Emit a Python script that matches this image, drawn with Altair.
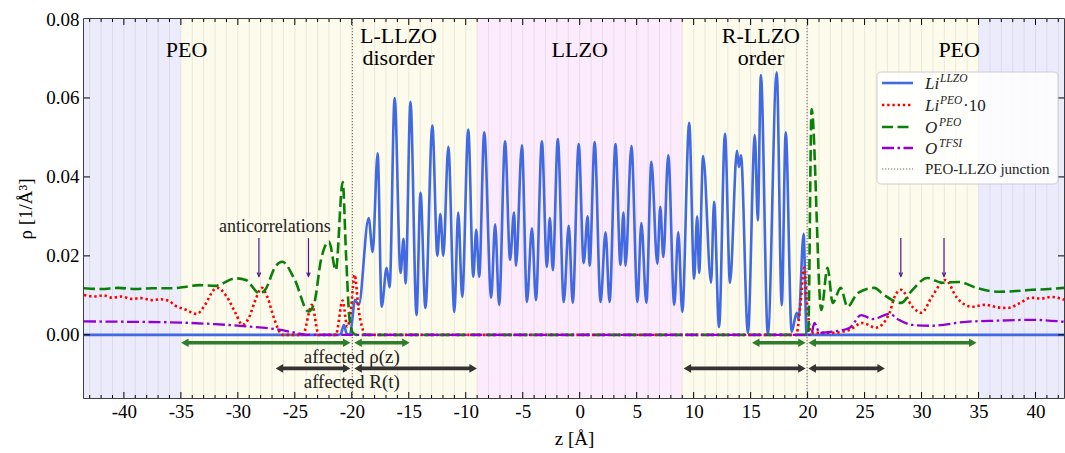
import altair as alt
import pandas as pd

# ---------------- values ----------------
REGION_Z0 = [-43.5, -35.0, -9.0, 9.0, 35.0]
REGION_Z1 = [-35.0, -9.0, 9.0, 35.0, 42.5]
REGION_COLOR = ["#ebebfb", "#fdfbeb", "#fcebfc", "#fdfbeb", "#ebebfb"]

JUNCTION_Z = [-19.95, 19.95]

LI_LLZO_Z = [-43.5, -21.2, -20.95, -20.7, -20.45, -20.15, -19.95, -19.74, -19.39, -18.52, -18.17,
             -17.73, -17.38, -16.94, -16.68, -16.24, -15.72, -15.46, -15.28, -14.85, -14.32,
             -13.97, -13.54, -12.93, -12.49, -12.23, -11.97, -11.53, -11.0, -10.66, -10.31,
             -9.78, -9.34, -9.08, -8.82, -8.38, -7.77, -7.42, -7.07, -6.55, -6.11, -5.76,
             -5.59, -5.07, -4.63, -4.19, -3.84, -3.32, -2.88, -2.62, -2.36, -1.92, -1.40,
             -0.96, -0.61, -0.09, 0.35, 0.70, 0.87, 1.31, 1.83, 2.27, 2.62, 3.14, 3.58, 3.84,
             4.02, 4.54, 5.07, 5.41, 5.85, 6.29, 6.81, 7.07, 7.34, 7.77, 8.30, 8.65, 9.00,
             9.61, 10.04, 10.31, 10.48, 10.83, 11.53, 11.79, 12.23, 12.75, 13.19, 13.80,
             13.97, 14.15, 14.76, 15.37, 15.63, 15.90, 16.51, 17.29, 17.73, 18.08, 18.60,
             19.04, 19.21, 19.65, 19.91, 42.5]
LI_LLZO_RHO = [0.0, 0.0, 0.0003, 0.0025, 0.0003, 0.0, 0.004, 0.0089, 0.0076, 0.0296, 0.0210,
               0.0460, 0.0071, 0.0170, 0.0120, 0.0600, 0.0157, 0.0243, 0.0130, 0.0590, 0.0050,
               0.0360, 0.0068, 0.0530, 0.0200, 0.0306, 0.0200, 0.0476, 0.0058, 0.0310, 0.0096,
               0.0520, 0.0147, 0.0266, 0.0147, 0.0513, 0.0094, 0.0280, 0.0076, 0.0490, 0.0190,
               0.0310, 0.0175, 0.0480, 0.0083, 0.0270, 0.0088, 0.0490, 0.0172, 0.0296, 0.0164,
               0.0496, 0.0083, 0.0276, 0.0081, 0.0483, 0.0182, 0.0300, 0.0175, 0.0488, 0.0083,
               0.0260, 0.0083, 0.0483, 0.0177, 0.0310, 0.0175, 0.0478, 0.0083, 0.0283, 0.0081,
               0.0438, 0.0180, 0.0324, 0.0197, 0.0455, 0.0076, 0.0260, 0.0058, 0.0537, 0.0142,
               0.0300, 0.0157, 0.0453, 0.0132, 0.0337, 0.0020, 0.0509, 0.0132, 0.0466, 0.0425,
               0.0455, 0.0005, 0.0506, 0.0290, 0.0658, 0.0000, 0.0665, 0.0075, 0.0513, 0.0008,
               0.0056, 0.0040, 0.0256, 0.0, 0.0]

LI_PEO_Z = [-43.5, -42.6, -41.8, -41.0, -40.2, -39.3, -38.5, -37.6, -36.8, -36.0, -35.5, -34.6,
            -33.6, -32.9, -32.1, -31.8, -31.0, -30.2, -29.6, -29.0, -28.5, -27.9, -27.4, -26.8,
            -26.1, -24.3, -23.5, -22.9, -21.4, -20.8, -20.4, -20.1, -19.75, -19.4, -19.1, -18.8,
            19.0, 19.35, 19.7, 19.95, 20.3, 22.2, 23.7, 24.8, 26.0, 27.2, 27.6, 28.2, 29.2, 30.0,
            30.9, 32.1, 33.1, 34.4, 35.6, 36.6, 37.6, 38.6, 39.6, 40.5, 41.4, 42.5]
LI_PEO_RHO = [0.0101, 0.0097, 0.0100, 0.0094, 0.0097, 0.0091, 0.0093, 0.0088, 0.0090, 0.0085,
              0.0074, 0.0064, 0.0053, 0.0075, 0.0114, 0.0119, 0.0098, 0.0055, 0.0025, 0.0045,
              0.0085, 0.0119, 0.0095, 0.0040, 0.0, 0.0, 0.0076, 0.0, 0.0, 0.0087, 0.0020,
              0.0056, 0.0152, 0.0063, 0.0020, 0.0, 0.0, 0.0070, 0.0170, 0.0080, 0.0005, 0.0005,
              0.0013, 0.0030, 0.0018, 0.0056, 0.0094, 0.0114, 0.0071, 0.0056, 0.0096, 0.0139,
              0.0094, 0.0071, 0.0076, 0.0070, 0.0068, 0.0080, 0.0094, 0.0092, 0.0096, 0.0089]

O_PEO_Z = [-43.5, -42.0, -40.5, -39.0, -37.5, -35.8, -34.5, -33.4, -32.0, -30.2, -29.3, -28.1,
           -27.6, -26.7, -26.1, -25.0, -23.8, -23.3, -22.7, -22.0, -21.4, -20.8, -20.5, -20.2,
           -19.9, -19.6, 20.05, 20.35, 21.2, 21.75, 22.2, 22.9, 23.5, 24.4, 25.85, 26.7, 28.2,
           29.2, 30.5, 31.8, 33.3, 34.8, 36.8, 38.3, 39.7, 41.2, 42.5]
O_PEO_RHO = [0.0118, 0.0116, 0.0119, 0.0116, 0.0118, 0.0118, 0.0122, 0.0126, 0.0124, 0.0143,
             0.0139, 0.0105, 0.0114, 0.0173, 0.0185, 0.0139, 0.0059, 0.0080, 0.0190, 0.0236,
             0.0164, 0.0387, 0.0200, 0.0040, 0.0005, 0.0, 0.0, 0.0572, 0.0063, 0.0170, 0.0081,
             0.0119, 0.0071, 0.0106, 0.0119, 0.0101, 0.0081, 0.0114, 0.0144, 0.0132, 0.0134,
             0.0119, 0.0109, 0.0111, 0.0114, 0.0116, 0.0119]

O_TFSI_Z = [-43.5, -39.5, -35.0, -32.0, -29.0, -26.6, -24.9, -24.0, 20.3, 20.6, 21.05, 22.2,
            23.7, 24.7, 25.7, 27.2, 28.0, 29.2, 30.9, 33.9, 36.8, 39.7, 42.5]
O_TFSI_RHO = [0.0034, 0.0033, 0.0031, 0.0027, 0.0021, 0.0014, 0.0005, 0.0, 0.0, 0.0030, 0.0005,
              0.0008, 0.0018, 0.0050, 0.0040, 0.0053, 0.0038, 0.0025, 0.0023, 0.0033, 0.0036,
              0.0038, 0.0033]

GREEN_ARROW_Z0 = [-35.0, -19.8, 15.1, 20.05]
GREEN_ARROW_Z1 = [-20.1, -14.9, 19.85, 34.85]
GREEN_ARROW_RHO = -0.0020
BLACK_ARROW_Z0 = [-26.7, -19.8, 9.1, 20.05]
BLACK_ARROW_Z1 = [-20.1, -9.0, 19.85, 26.8]
BLACK_ARROW_RHO = -0.0085

ANTI_Z = [-28.15, -23.8, 28.18, 31.97]
ANTI_TOP = 0.0245
ANTI_TIP = 0.0148

REGION_LABEL_Z = [-34.5, -15.9, -15.9, 0.0, 15.9, 15.9, 33.3]
REGION_LABEL_RHO = [0.0722, 0.0758, 0.0700, 0.0722, 0.0758, 0.0700, 0.0722]
REGION_LABEL_TEXT = ["PEO", "L-LLZO", "disorder", "LLZO", "R-LLZO", "order", "PEO"]

NOTE_Z = [-26.75, -20.0, -20.0]
NOTE_RHO = [0.0272, -0.0056, -0.0119]
NOTE_TEXT = ["anticorrelations", "affected ρ(z)", "affected R(t)"]

# ---------------- layout ----------------
Z_MIN, Z_MAX = -43.5, 42.5
R_MIN, R_MAX = -0.016, 0.08
W, H = 980, 379
SERIF = "Liberation Serif"


def zx(px):
    return Z_MIN + px * (Z_MAX - Z_MIN) / W


def ry(py):
    return R_MAX - py * (R_MAX - R_MIN) / H


xscale = alt.Scale(domain=[Z_MIN, Z_MAX], nice=False, zero=False)
yscale = alt.Scale(domain=[R_MIN, R_MAX], nice=False, zero=False)
x_axis = alt.Axis(values=list(range(-40, 41, 5)), labelExpr="datum.value + ''", ticks=False,
                  grid=False, domain=False, labelFont=SERIF, labelFontSize=19, labelColor="black",
                  labelPadding=4, labelOverlap=False, labelFlush=False, title="z [Å]",
                  titleFont=SERIF, titleFontSize=19, titleFontWeight="normal", titleColor="black",
                  titlePadding=8)
y_axis = alt.Axis(values=[0.0, 0.02, 0.04, 0.06, 0.08], format=".2f", ticks=False, grid=False,
                  domain=False, labelFont=SERIF, labelFontSize=19, labelColor="black",
                  labelPadding=5, labelOverlap=False, labelFlush=False, title="ρ [1/Å³]",
                  titleFont=SERIF, titleFontSize=19, titleFontWeight="normal",
                  titleColor="black", titlePadding=10)


def X(f="z"):
    return alt.X(f"{f}:Q", scale=xscale, axis=x_axis)


def Y(f="rho"):
    return alt.Y(f"{f}:Q", scale=yscale, axis=y_axis)


layers = []

# background regions
bg = pd.DataFrame({"z": REGION_Z0, "z2": REGION_Z1, "rho": R_MIN, "rho2": R_MAX, "c": REGION_COLOR})
layers.append(alt.Chart(bg).mark_rect(strokeWidth=0).encode(
    x=X(), x2="z2:Q", y=Y(), y2="rho2:Q", color=alt.Color("c:N", scale=None)))

# faint vertical grid every 1 Å
grid = pd.DataFrame({"z": list(range(-43, 43))})
layers.append(alt.Chart(grid).mark_rule(color="#8a8a8a", opacity=0.16, strokeWidth=1).encode(x=X()))

# junction lines
jn = pd.DataFrame({"z": JUNCTION_Z})
layers.append(alt.Chart(jn).mark_rule(color="#555555", strokeDash=[1.2, 1.8], strokeWidth=0.9).encode(x=X()))

SERIES = [
    (LI_LLZO_Z, LI_LLZO_RHO, dict(color="#4169e1", strokeWidth=2.6)),
    (LI_PEO_Z, LI_PEO_RHO, dict(color="#ff0000", strokeWidth=2.6, strokeDash=[2.4, 2.8])),
    (O_PEO_Z, O_PEO_RHO, dict(color="#0a800a", strokeWidth=2.6, strokeDash=[11, 4.5])),
    (O_TFSI_Z, O_TFSI_RHO, dict(color="#9400d3", strokeWidth=2.3, strokeDash=[12, 3.5, 2.5, 3.5])),
]
for zs, rs, st in SERIES:
    d = pd.DataFrame({"z": zs, "rho": rs})
    layers.append(alt.Chart(d).mark_line(interpolate="monotone", clip=True, **st).encode(
        x=X(), y=Y(), order="z:Q"))


# double arrows
def arrows(z0s, z1s, rho, color, width):
    inset = 0.35
    d = pd.DataFrame({"a": [z + inset for z in z0s], "b": [z - inset for z in z1s], "rho": rho})
    shaft = alt.Chart(d).mark_rule(color=color, strokeWidth=width).encode(
        x=X("a"), x2="b:Q", y=Y())
    left = alt.Chart(d).mark_point(shape="triangle-left", filled=True, color=color, size=75,
                                   opacity=1).encode(x=X("a"), y=Y())
    right = alt.Chart(d).mark_point(shape="triangle-right", filled=True, color=color, size=75,
                                    opacity=1).encode(x=X("b"), y=Y())
    return [shaft, left, right]


layers += arrows(GREEN_ARROW_Z0, GREEN_ARROW_Z1, GREEN_ARROW_RHO, "#2d7d2d", 3.6)
layers += arrows(BLACK_ARROW_Z0, BLACK_ARROW_Z1, BLACK_ARROW_RHO, "#333333", 3.6)

# anticorrelation arrows
ad = pd.DataFrame({"z": ANTI_Z, "rho": ANTI_TOP, "rho2": ANTI_TIP})
layers.append(alt.Chart(ad).mark_rule(color="#4b1a8a", strokeWidth=1.2).encode(
    x=X(), y=Y(), y2="rho2:Q"))
layers.append(alt.Chart(ad).mark_point(shape="M-0.45,-1L0,0L0.45,-1", filled=False,
                                       color="#4b1a8a", size=60, strokeWidth=1.2,
                                       opacity=1).encode(x=X(), y=Y("rho2")))

# texts
rl = pd.DataFrame({"z": REGION_LABEL_Z, "rho": REGION_LABEL_RHO, "t": REGION_LABEL_TEXT})
layers.append(alt.Chart(rl).mark_text(font=SERIF, fontSize=22, color="black", align="center",
                                      baseline="middle").encode(x=X(), y=Y(), text="t:N"))
nt = pd.DataFrame({"z": NOTE_Z, "rho": NOTE_RHO, "t": NOTE_TEXT,
                   "s": [18, 19, 19]})
layers.append(alt.Chart(nt).mark_text(font=SERIF, color="#222222", align="center",
                                      baseline="middle").encode(
    x=X(), y=Y(), text="t:N", size=alt.Size("s:Q", scale=None, legend=None)))

# inward ticks
px_r = (R_MAX - R_MIN) / H
px_z = (Z_MAX - Z_MIN) / W
tk = []
for v in range(-43, 43):
    ln = 6 if v % 5 == 0 else 3
    tk.append({"z": v, "z2": v, "rho": R_MIN, "rho2": R_MIN + ln * px_r})
    tk.append({"z": v, "z2": v, "rho": R_MAX, "rho2": R_MAX - ln * px_r})
for v in [0.0, 0.02, 0.04, 0.06]:
    tk.append({"z": Z_MIN, "z2": Z_MIN + 6 * px_z, "rho": v, "rho2": v})
    tk.append({"z": Z_MAX, "z2": Z_MAX - 6 * px_z, "rho": v, "rho2": v})
layers.append(alt.Chart(pd.DataFrame(tk)).mark_rule(color="black", strokeWidth=1).encode(
    x=X(), x2="z2:Q", y=Y(), y2="rho2:Q"))

# ---------------- manual legend ----------------
box = pd.DataFrame({"z": [zx(793)], "z2": [zx(974)], "rho": [ry(53)], "rho2": [ry(165)]})
layers.append(alt.Chart(box).mark_rect(fill="white", fillOpacity=0.85, stroke="#cccccc",
                                       strokeWidth=1, cornerRadius=4).encode(
    x=X(), x2="z2:Q", y=Y(), y2="rho2:Q"))
ENTRY_Y = [64, 86, 108, 129, 150]
sample_styles = [st for _, _, st in SERIES] + [dict(color="#555555", strokeWidth=0.9,
                                                    strokeDash=[1.2, 1.8])]
for ey, st in zip(ENTRY_Y, sample_styles):
    d = pd.DataFrame({"z": [zx(798)], "z2": [zx(829)], "rho": [ry(ey)]})
    layers.append(alt.Chart(d).mark_rule(**st).encode(x=X(), x2="z2:Q", y=Y()))

main_txt = pd.DataFrame({"z": [zx(841)] * 4, "rho": [ry(y + 6) for y in ENTRY_Y[:4]],
                         "t": ["Li", "Li", "O", "O"]})
layers.append(alt.Chart(main_txt).mark_text(font=SERIF, fontSize=17, fontStyle="italic",
                                            color="#222222", align="left",
                                            baseline="alphabetic").encode(
    x=X(), y=Y(), text="t:N"))
sup_txt = pd.DataFrame({"z": [zx(856), zx(856), zx(855), zx(855)],
                        "rho": [ry(y - 1) for y in ENTRY_Y[:4]],
                        "t": ["LLZO", "PEO", "PEO", "TFSI"]})
layers.append(alt.Chart(sup_txt).mark_text(font=SERIF, fontSize=11.5, fontStyle="italic",
                                           color="#222222", align="left",
                                           baseline="alphabetic").encode(
    x=X(), y=Y(), text="t:N"))
extra_txt = pd.DataFrame({"z": [zx(879), zx(841)], "rho": [ry(ENTRY_Y[1] + 6), ry(ENTRY_Y[4] + 5)],
                          "t": ["·10", "PEO-LLZO junction"], "s": [17, 15]})
layers.append(alt.Chart(extra_txt).mark_text(font=SERIF, color="#222222", align="left",
                                             baseline="alphabetic").encode(
    x=X(), y=Y(), text="t:N", size=alt.Size("s:Q", scale=None, legend=None)))

chart = alt.layer(*layers).properties(
    width=W, height=H,
    padding={"left": 84, "top": 19, "right": 1, "bottom": 55},
    autosize=alt.AutoSizeParams(type="none"),
    background="white",
).configure_view(stroke="black", strokeWidth=1.5).configure_axis(
    labelFont=SERIF, titleFont=SERIF
).configure_text(font=SERIF)

chart.save("out.html", embed_options={"renderer": "svg", "actions": False})
